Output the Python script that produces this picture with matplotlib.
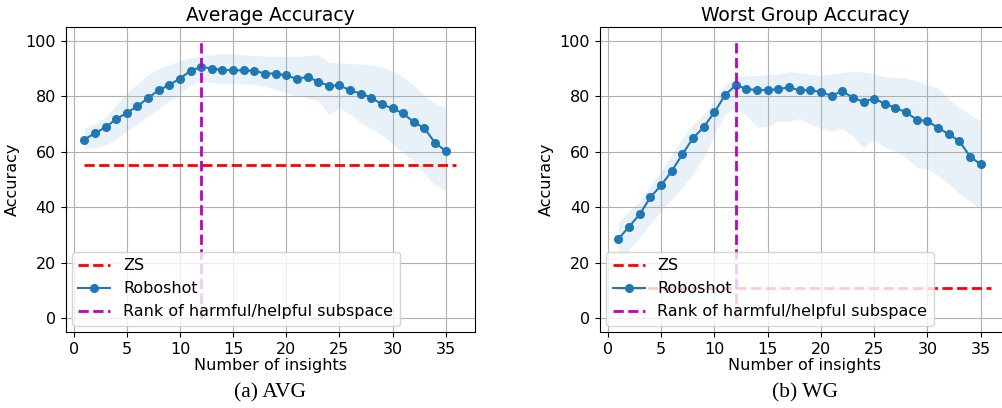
import numpy as np
import matplotlib
matplotlib.use("Agg")
import matplotlib.pyplot as plt

# number of insights (1..35), ZS baseline drawn over 1..36
insights = list(range(1, 36))
zs_span = list(range(1, 37))
rank_insights = 12

# Average accuracy
avg_zs = 55.3
avg_mean = [64.4, 66.7, 68.8, 71.8, 74.0, 76.4, 79.4, 82.2, 84.1, 86.4,
            89.2, 90.6, 90.0, 89.5, 89.4, 89.3, 89.2, 88.2, 88.2, 87.5,
            86.3, 87.0, 85.3, 83.8, 84.0, 82.1, 81.0, 79.5, 77.1, 75.6,
            73.8, 70.7, 68.5, 63.2, 60.3]
avg_upper = [68.5, 70.0, 72.3, 77.0, 81.3, 84.5, 87.9, 90.0, 91.5, 92.8,
             93.8, 94.5, 95.0, 95.5, 95.3, 95.0, 94.7, 94.5, 94.4, 94.4,
             94.4, 94.7, 95.0, 92.2, 92.0, 91.8, 91.6, 91.2, 90.5, 89.2,
             87.0, 84.0, 80.0, 77.5, 76.0]
avg_lower = [60.9, 61.5, 62.5, 64.5, 67.5, 70.0, 72.9, 75.5, 78.3, 81.0,
             84.0, 85.5, 85.0, 84.5, 84.8, 84.5, 84.3, 83.5, 82.5, 81.2,
             80.1, 79.5, 78.3, 73.5, 75.9, 73.5, 70.5, 68.5, 66.0, 62.8,
             59.7, 56.7, 52.0, 48.0, 46.0]

# Worst group accuracy
wg_zs = 10.9
wg_mean = [28.6, 33.0, 37.5, 43.6, 47.9, 53.0, 59.1, 64.9, 68.9, 74.2,
           80.4, 84.0, 82.7, 82.2, 82.3, 82.5, 83.3, 82.1, 82.2, 81.5,
           80.2, 81.9, 79.5, 78.0, 79.2, 77.3, 75.9, 74.2, 71.6, 71.0,
           68.7, 66.3, 63.9, 58.2, 55.5]
wg_upper = [34.5, 38.5, 42.4, 48.0, 53.0, 59.0, 65.0, 70.0, 73.5, 78.3,
            84.3, 86.6, 87.5, 87.5, 87.8, 88.0, 89.0, 88.5, 88.0, 87.5,
            88.0, 88.5, 89.0, 88.8, 88.0, 87.0, 86.8, 86.5, 85.5, 84.3,
            83.0, 79.0, 76.0, 73.5, 71.0]
wg_lower = [21.0, 25.0, 29.2, 34.0, 38.8, 42.8, 47.1, 52.0, 57.9, 66.3,
            73.5, 76.0, 73.0, 69.0, 69.0, 71.0, 71.0, 72.0, 70.0, 68.5,
            67.5, 68.5, 65.7, 61.5, 64.5, 61.5, 60.3, 57.9, 54.5, 53.7,
            51.5, 48.4, 45.0, 42.0, 39.4]

panels = [
    ("Average Accuracy", "(a) AVG", avg_zs, avg_mean, avg_lower, avg_upper),
    ("Worst Group Accuracy", "(b) WG", wg_zs, wg_mean, wg_lower, wg_upper),
]

fig = plt.figure(figsize=(10.03, 4.08), dpi=100)
axes = [fig.add_axes([0.0655, 0.186, 0.408, 0.748]),
        fig.add_axes([0.598, 0.186, 0.409, 0.748])]

for ax, (title, caption, zs, mean, lower, upper) in zip(axes, panels):
    ax.plot(zs_span, [zs] * len(zs_span), "r--", lw=2, label="ZS")
    ax.fill_between(insights, lower, upper, color="tab:blue", alpha=0.1, lw=0)
    ax.plot(insights, mean, "o-", color="tab:blue", lw=1.5, markersize=5.5,
            label="Roboshot")
    ax.vlines(rank_insights, 0, 100, colors="m", linestyles="--", lw=2,
              label="Rank of harmful/helpful subspace")

    ax.set_xlim(-0.75, 37.75)
    ax.set_ylim(-5, 105)
    ax.set_xticks(range(0, 36, 5))
    ax.set_yticks(range(0, 101, 20))
    ax.tick_params(labelsize=11.5)
    ax.grid(True)
    ax.set_title(title, fontsize=13.5, pad=4)
    ax.set_xlabel("Number of insights", fontsize=11.5, labelpad=1)
    ax.set_ylabel("Accuracy", fontsize=11.5)
    ax.legend(loc="lower left", fontsize=11.5, borderaxespad=0.4)
    ax.text(0.5, -0.2, caption, transform=ax.transAxes, ha="center", va="center",
            fontsize=15.5, family="Liberation Serif")

fig.savefig("out.png", dpi=100)
